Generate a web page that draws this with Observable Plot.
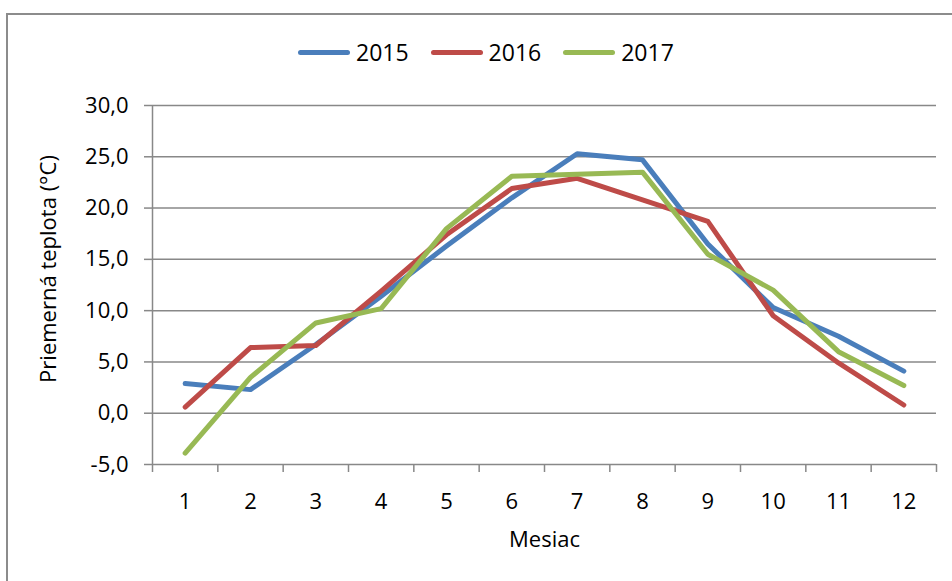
<!DOCTYPE html>
<html>
<head>
<meta charset="utf-8">
<script src="https://cdn.jsdelivr.net/npm/d3@7"></script>
<script src="https://cdn.jsdelivr.net/npm/@observablehq/plot@0.6"></script>
<style>
  body { margin: 0; background: #fff; font-family: "Open Sans", sans-serif; }
  #wrap { position: relative; width: 952px; height: 581px; overflow: hidden; background: #fff; }
  #frame { position: absolute; left: 6px; top: 13px; width: 1000px; height: 1000px; border: 2px solid #8c8c8c; box-sizing: border-box; pointer-events: none; }
  #legend { position: relative; height: 85px; }
  #legend .items { position: absolute; left: 298px; top: 37px; display: flex; gap: 22px; }
  #legend .item { display: flex; align-items: center; font-size: 23px; line-height: 30px; color: #000; }
  #legend .sw { display: inline-block; width: 52px; height: 5px; border-radius: 3px; margin-right: 6px; }
  svg { display: block; }
</style>
</head>
<body>
<div id="wrap">
  <div id="frame"></div>
  <div id="legend"><div class="items"></div></div>
  <div id="chart"></div>
</div>
<script>
// Data
const months = [1, 2, 3, 4, 5, 6, 7, 8, 9, 10, 11, 12];
const years = ["2015", "2016", "2017"];
const t2015 = [2.9, 2.3, 6.7, 11.4, 16.3, 21.0, 25.3, 24.7, 16.5, 10.3, 7.5, 4.1];
const t2016 = [0.6, 6.4, 6.6, 11.9, 17.4, 21.9, 22.9, 20.8, 18.7, 9.5, 4.9, 0.8];
const t2017 = [-3.9, 3.5, 8.8, 10.2, 18.0, 23.1, 23.3, 23.5, 15.5, 12.0, 6.0, 2.7];
const yTicks = [-5, 0, 5, 10, 15, 20, 25, 30];
const colors = ["#4a7ebb", "#be4b48", "#98b954"];
const xLabel = "Mesiac";
const yLabel = "Priemerná teplota (°C)";

const series = [t2015, t2016, t2017];
const rows = [];
years.forEach((yr, i) => months.forEach((m, j) => rows.push({year: yr, month: m, value: series[i][j]})));

const xDomain = [months[0] - 0.5, months[months.length - 1] + 0.5];
const bounds = months.map(m => m - 0.5).concat([months[months.length - 1] + 0.5]);
const fmt = d => d.toFixed(1).replace(".", ",");

// Legend
const items = document.querySelector("#legend .items");
years.forEach((yr, i) => {
  const it = document.createElement("div");
  it.className = "item";
  const sw = document.createElement("span");
  sw.className = "sw";
  sw.style.background = colors[i];
  it.appendChild(sw);
  it.appendChild(document.createTextNode(yr));
  items.appendChild(it);
});

const chart = Plot.plot({
  width: 952,
  height: 496,
  marginTop: 20,
  marginBottom: 117,
  marginLeft: 152,
  marginRight: 16,
  style: {fontFamily: "Open Sans", fontSize: "22px", color: "#000", background: "transparent", overflow: "visible"},
  x: {type: "linear", domain: xDomain},
  y: {domain: [yTicks[0], yTicks[yTicks.length - 1]]},
  color: {domain: years, range: colors},
  marks: [
    Plot.gridY(yTicks, {stroke: "#888", strokeOpacity: 1, strokeWidth: 1.5}),
    Plot.ruleX([xDomain[0]], {stroke: "#888", strokeWidth: 1.5}),
    Plot.axisY(yTicks, {tickSize: 8, tickPadding: 16, tickFormat: fmt, stroke: "#888", strokeWidth: 1.5, fill: "#000", label: null, fontSize: 22}),
    Plot.axisX(bounds, {tickSize: 8, tickFormat: () => "", stroke: "#888", strokeWidth: 1.5, label: null}),
    Plot.axisX(months, {tickSize: 0, tickPadding: 29, tickFormat: d => String(d), fill: "#000", label: null, fontSize: 22}),
    Plot.lineY(rows, {x: "month", y: "value", stroke: "year", z: "year", strokeWidth: 5, strokeLinecap: "round", strokeLinejoin: "round"}),
    Plot.text([xLabel], {text: d => d, frameAnchor: "bottom", dy: 82, fontSize: 22, fill: "#000"}),
    Plot.text([yLabel], {text: d => d, frameAnchor: "left", textAnchor: "middle", rotate: -90, dx: -104, dy: -16, fontSize: 22, fill: "#000"})
  ]
});
document.getElementById("chart").appendChild(chart);
</script>
</body>
</html>
